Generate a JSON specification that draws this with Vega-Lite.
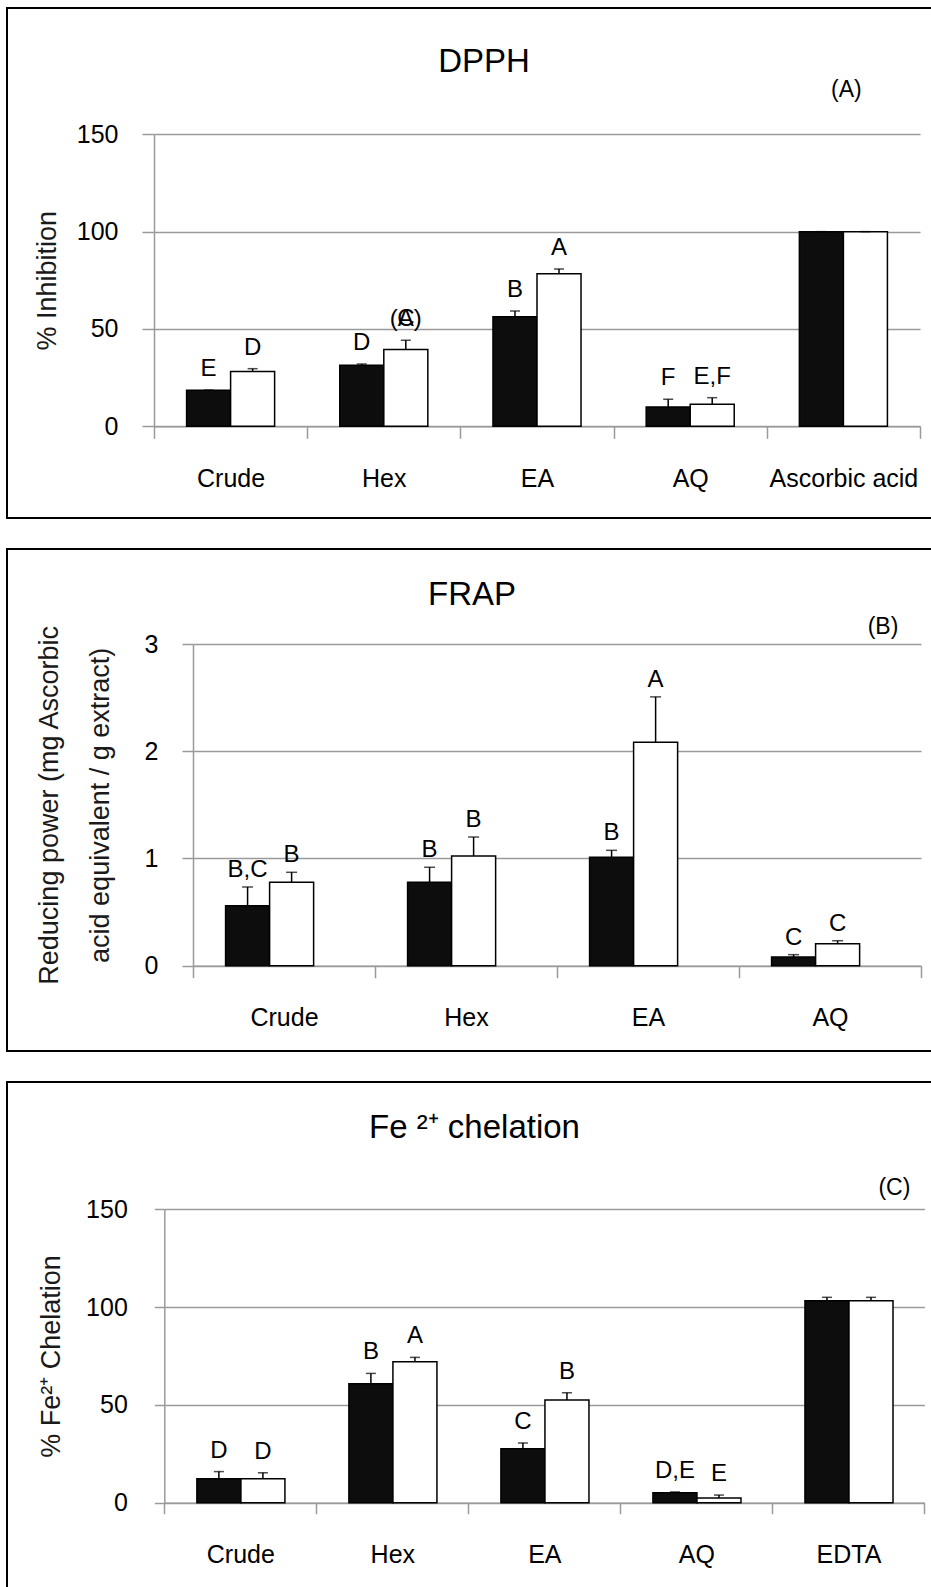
{
  "$schema": "https://vega.github.io/schema/vega-lite/v6.json",
  "padding": {"left": 6, "top": 7, "right": 0, "bottom": 0},
  "spacing": 29,
  "datasets": {
    "dpph": [
      {"cat": "Crude", "grp": "solid", "mean": 18.5, "upper": 18.6, "label": "E", "label2": ""},
      {"cat": "Crude", "grp": "open", "mean": 28.2, "upper": 29.6, "label": "D", "label2": ""},
      {"cat": "Hex", "grp": "solid", "mean": 31.3, "upper": 32.0, "label": "D", "label2": ""},
      {"cat": "Hex", "grp": "open", "mean": 39.5, "upper": 44.2, "label": "C", "label2": "(A)"},
      {"cat": "EA", "grp": "solid", "mean": 56.3, "upper": 59.2, "label": "B", "label2": ""},
      {"cat": "EA", "grp": "open", "mean": 78.4, "upper": 80.8, "label": "A", "label2": ""},
      {"cat": "AQ", "grp": "solid", "mean": 9.9, "upper": 13.9, "label": "F", "label2": ""},
      {"cat": "AQ", "grp": "open", "mean": 11.3, "upper": 14.7, "label": "E,F", "label2": ""},
      {"cat": "Ascorbic acid", "grp": "solid", "mean": 100, "upper": 100, "label": "", "label2": ""},
      {"cat": "Ascorbic acid", "grp": "open", "mean": 100, "upper": 100, "label": "", "label2": ""}
    ],
    "frap": [
      {"cat": "Crude", "grp": "solid", "mean": 0.56, "upper": 0.734, "label": "B,C"},
      {"cat": "Crude", "grp": "open", "mean": 0.778, "upper": 0.871, "label": "B"},
      {"cat": "Hex", "grp": "solid", "mean": 0.778, "upper": 0.918, "label": "B"},
      {"cat": "Hex", "grp": "open", "mean": 1.023, "upper": 1.2, "label": "B"},
      {"cat": "EA", "grp": "solid", "mean": 1.011, "upper": 1.076, "label": "B"},
      {"cat": "EA", "grp": "open", "mean": 2.084, "upper": 2.507, "label": "A"},
      {"cat": "AQ", "grp": "solid", "mean": 0.081, "upper": 0.103, "label": "C"},
      {"cat": "AQ", "grp": "open", "mean": 0.205, "upper": 0.233, "label": "C"}
    ],
    "fe": [
      {"cat": "Crude", "grp": "solid", "mean": 12.3, "upper": 15.9, "label": "D"},
      {"cat": "Crude", "grp": "open", "mean": 12.3, "upper": 15.3, "label": "D"},
      {"cat": "Hex", "grp": "solid", "mean": 60.8, "upper": 66.1, "label": "B"},
      {"cat": "Hex", "grp": "open", "mean": 72.1, "upper": 74.3, "label": "A"},
      {"cat": "EA", "grp": "solid", "mean": 27.6, "upper": 30.5, "label": "C"},
      {"cat": "EA", "grp": "open", "mean": 52.5, "upper": 56.2, "label": "B"},
      {"cat": "AQ", "grp": "solid", "mean": 5.1, "upper": 5.5, "label": "D,E"},
      {"cat": "AQ", "grp": "open", "mean": 2.4, "upper": 3.9, "label": "E"},
      {"cat": "EDTA", "grp": "solid", "mean": 103.3, "upper": 105.0, "label": ""},
      {"cat": "EDTA", "grp": "open", "mean": 103.3, "upper": 105.0, "label": ""}
    ]
  },
  "vconcat": [
    {
      "data": {"name": "dpph"},
      "width": 954,
      "height": 510,
      "title": {"text": "DPPH", "fontSize": 33, "anchor": "middle", "frame": "group", "offset": -97, "baseline": "alphabetic"},
      "encoding": {
        "x": {"field": "cat", "type": "nominal",
          "scale": {"domain": ["Crude", "Hex", "EA", "AQ", "Ascorbic acid"], "range": [147, 913], "paddingInner": 0, "paddingOuter": 0},
          "axis": {"title": null, "offset": -91.7, "tickBand": "extent", "tickSize": 12, "labelPadding": 28, "labelAngle": 0, "grid": false}}
      },
      "layer": [
        {
          "mark": {"type": "bar", "stroke": "black", "strokeWidth": 1.5},
          "encoding": {
            "xOffset": {"field": "grp", "type": "nominal", "scale": {"domain": ["solid", "open"], "paddingInner": 0, "paddingOuter": 0.74}},
            "y": {"field": "mean", "type": "quantitative", "title": "% Inhibition",
              "scale": {"domain": [0, 150], "range": [418.3, 126.3], "nice": false, "zero": true},
              "axis": {"offset": -147, "values": [0, 50, 100, 150], "format": "d", "tickSize": 12, "labelPadding": 24, "titlePadding": 15, "grid": true}},
            "fill": {"field": "grp", "type": "nominal", "scale": {"domain": ["solid", "open"], "range": ["#0d0d0d", "#ffffff"]}, "legend": null}
          }
        },
        {
          "mark": {"type": "rule", "color": "black", "strokeWidth": 1.5},
          "encoding": {
            "xOffset": {"field": "grp", "type": "nominal"},
            "y": {"field": "mean", "type": "quantitative", "title": "% Inhibition"},
            "y2": {"field": "upper"}
          }
        },
        {
          "mark": {"type": "tick", "color": "black", "thickness": 1.5, "size": 10},
          "encoding": {
            "xOffset": {"field": "grp", "type": "nominal"},
            "y": {"field": "upper", "type": "quantitative", "title": "% Inhibition"}
          }
        },
        {
          "mark": {"type": "text", "fontSize": 24, "baseline": "alphabetic", "dy": -14, "color": "black"},
          "encoding": {
            "xOffset": {"field": "grp", "type": "nominal"},
            "y": {"field": "upper", "type": "quantitative", "title": "% Inhibition"},
            "text": {"field": "label"}
          }
        },
        {
          "mark": {"type": "text", "fontSize": 24, "baseline": "alphabetic", "dy": -14, "color": "black"},
          "encoding": {
            "xOffset": {"field": "grp", "type": "nominal"},
            "y": {"field": "upper", "type": "quantitative", "title": "% Inhibition"},
            "text": {"field": "label2"}
          }
        },
        {
          "data": {"values": [{"t": "(A)"}]},
          "mark": {"type": "text", "fontSize": 23, "baseline": "middle", "dx": 3, "color": "black"},
          "encoding": {
            "x": {"datum": "Ascorbic acid"},
            "y": {"datum": 172.7, "type": "quantitative", "title": "% Inhibition"},
            "text": {"field": "t"}
          }
        }
      ]
    },
    {
      "data": {"name": "frap"},
      "width": 930,
      "height": 502,
      "title": {"text": "FRAP", "fontSize": 33, "anchor": "middle", "frame": "group", "offset": -89, "baseline": "alphabetic"},
      "encoding": {
        "x": {"field": "cat", "type": "nominal",
          "scale": {"domain": ["Crude", "Hex", "EA", "AQ"], "range": [186, 914], "paddingInner": 0, "paddingOuter": 0},
          "axis": {"title": null, "offset": -85.3, "tickBand": "extent", "tickSize": 12, "labelPadding": 28, "labelAngle": 0, "grid": false}}
      },
      "layer": [
        {
          "mark": {"type": "bar", "stroke": "black", "strokeWidth": 1.5},
          "encoding": {
            "xOffset": {"field": "grp", "type": "nominal", "scale": {"domain": ["solid", "open"], "paddingInner": 0, "paddingOuter": 0.77}},
            "y": {"field": "mean", "type": "quantitative", "title": ["Reducing power (mg Ascorbic", "acid equivalent / g extract)"],
              "scale": {"domain": [0, 3], "range": [416.7, 95], "nice": false, "zero": true},
              "axis": {"offset": -186, "values": [0, 1, 2, 3], "format": "d", "tickSize": 11, "labelPadding": 24, "titlePadding": 30, "titleLineHeight": 51, "grid": true}},
            "fill": {"field": "grp", "type": "nominal", "scale": {"domain": ["solid", "open"], "range": ["#0d0d0d", "#ffffff"]}, "legend": null}
          }
        },
        {
          "mark": {"type": "rule", "color": "black", "strokeWidth": 1.5},
          "encoding": {
            "xOffset": {"field": "grp", "type": "nominal"},
            "y": {"field": "mean", "type": "quantitative", "title": ["Reducing power (mg Ascorbic", "acid equivalent / g extract)"]},
            "y2": {"field": "upper"}
          }
        },
        {
          "mark": {"type": "tick", "color": "black", "thickness": 1.5, "size": 11},
          "encoding": {
            "xOffset": {"field": "grp", "type": "nominal"},
            "y": {"field": "upper", "type": "quantitative", "title": ["Reducing power (mg Ascorbic", "acid equivalent / g extract)"]}
          }
        },
        {
          "mark": {"type": "text", "fontSize": 24, "baseline": "alphabetic", "dy": -10, "color": "black"},
          "encoding": {
            "xOffset": {"field": "grp", "type": "nominal"},
            "y": {"field": "upper", "type": "quantitative", "title": ["Reducing power (mg Ascorbic", "acid equivalent / g extract)"]},
            "text": {"field": "label"}
          }
        },
        {
          "data": {"values": [{"t": "(B)"}]},
          "mark": {"type": "text", "fontSize": 23, "baseline": "middle", "dx": 53, "color": "black"},
          "encoding": {
            "x": {"datum": "AQ"},
            "y": {"datum": 3.16, "type": "quantitative", "title": ["Reducing power (mg Ascorbic", "acid equivalent / g extract)"]},
            "text": {"field": "t"}
          }
        }
      ]
    },
    {
      "data": {"name": "fe"},
      "width": 935,
      "height": 520,
      "title": {"text": "Fe ²⁺ chelation", "fontSize": 33, "anchor": "middle", "frame": "group", "offset": -89, "baseline": "alphabetic"},
      "encoding": {
        "x": {"field": "cat", "type": "nominal",
          "scale": {"domain": ["Crude", "Hex", "EA", "AQ", "EDTA"], "range": [157.3, 917.4], "paddingInner": 0, "paddingOuter": 0},
          "axis": {"title": null, "offset": -99.3, "tickBand": "extent", "tickSize": 11, "labelPadding": 29, "labelAngle": 0, "grid": false}}
      },
      "layer": [
        {
          "mark": {"type": "bar", "stroke": "black", "strokeWidth": 1.5},
          "encoding": {
            "xOffset": {"field": "grp", "type": "nominal", "scale": {"domain": ["solid", "open"], "paddingInner": 0, "paddingOuter": 0.71}},
            "y": {"field": "mean", "type": "quantitative", "title": "% Fe²⁺  Chelation",
              "scale": {"domain": [0, 150], "range": [420.7, 127.3], "nice": false, "zero": true},
              "axis": {"offset": -157.3, "values": [0, 50, 100, 150], "format": "d", "tickSize": 10, "labelPadding": 27, "titlePadding": 20, "grid": true}},
            "fill": {"field": "grp", "type": "nominal", "scale": {"domain": ["solid", "open"], "range": ["#0d0d0d", "#ffffff"]}, "legend": null}
          }
        },
        {
          "mark": {"type": "rule", "color": "black", "strokeWidth": 1.5},
          "encoding": {
            "xOffset": {"field": "grp", "type": "nominal"},
            "y": {"field": "mean", "type": "quantitative", "title": "% Fe²⁺  Chelation"},
            "y2": {"field": "upper"}
          }
        },
        {
          "mark": {"type": "tick", "color": "black", "thickness": 1.5, "size": 10},
          "encoding": {
            "xOffset": {"field": "grp", "type": "nominal"},
            "y": {"field": "upper", "type": "quantitative", "title": "% Fe²⁺  Chelation"}
          }
        },
        {
          "mark": {"type": "text", "fontSize": 24, "baseline": "alphabetic", "dy": -14, "color": "black"},
          "encoding": {
            "xOffset": {"field": "grp", "type": "nominal"},
            "y": {"field": "upper", "type": "quantitative", "title": "% Fe²⁺  Chelation"},
            "text": {"field": "label"}
          }
        },
        {
          "data": {"values": [{"t": "(C)"}]},
          "mark": {"type": "text", "fontSize": 23, "baseline": "middle", "dx": 46, "color": "black"},
          "encoding": {
            "x": {"datum": "EDTA"},
            "y": {"datum": 160.9, "type": "quantitative", "title": "% Fe²⁺  Chelation"},
            "text": {"field": "t"}
          }
        }
      ]
    }
  ],
  "config": {
    "view": {"stroke": "black", "strokeWidth": 2},
    "font": "Liberation Sans",
    "axis": {
      "labelFont": "Liberation Sans", "titleFont": "Liberation Sans",
      "labelColor": "black", "titleColor": "#1a1a1a", "titleFontWeight": "normal",
      "labelFontSize": 25, "titleFontSize": 27,
      "domainColor": "#9a9a9a", "tickColor": "#9a9a9a", "gridColor": "#9a9a9a",
      "domainWidth": 1.5, "tickWidth": 1.5, "gridWidth": 1.5
    },
    "title": {"font": "Liberation Sans", "fontWeight": "normal", "color": "black"},
    "text": {"font": "Liberation Sans"}
  }
}
